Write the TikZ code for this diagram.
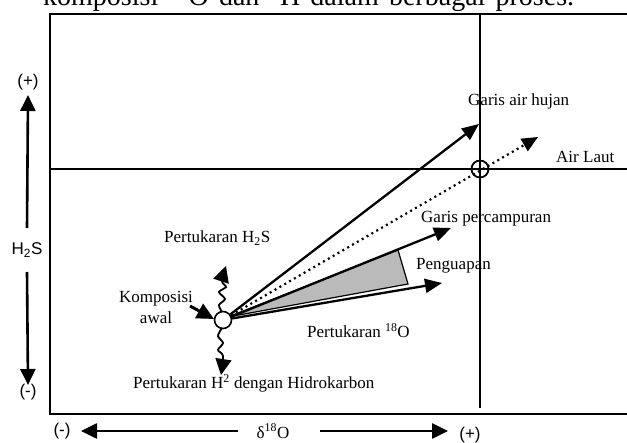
\documentclass[tikz,border=0pt]{standalone}
\usepackage{fontspec}
\setmainfont{Liberation Serif}
\newfontfamily\arialf{Liberation Sans}
\usetikzlibrary{arrows.meta}
\begin{document}
\begin{tikzpicture}[x=1pt,y=-1pt,
  lbl/.style={font=\fontsize{17}{21}\selectfont, inner sep=0pt},
  slbl/.style={font=\arialf\fontsize{17}{21}\selectfont, inner sep=0pt},
  gridline/.style={line width=1.8pt},
  bigarrow/.style={line width=2.3pt, -{Triangle[length=17pt,width=14pt]}},
  dotarrow/.style={line width=2.2pt, dash pattern=on 2pt off 3.6pt, -{Triangle[length=16pt,width=14pt]}},
  wavy/.style={line width=1.8pt, -{Triangle[length=16pt,width=16pt]}},
  axarrow/.style={line width=2.6pt, -{Triangle[length=16pt,width=15pt]}}]
\useasboundingbox (0,0) rectangle (627,443);
% title (cut by the page top)
\node[anchor=base west, inner sep=0pt, font=\fontsize{28}{32}\selectfont] (title) at (43,6)
  {\makebox[531pt][s]{komposisi \textsuperscript{18}O dan \textsuperscript{2}H dalam berbagai proses.}};
% frame and grid
\draw[gridline] (660,14) -- (50,14) -- (50,414) -- (660,414);
\draw[gridline] (50,169) -- (660,169);
\draw[gridline] (480,14) -- (480,408);
% coordinates
\coordinate (rain) at (479,124);
\coordinate (dott) at (538,137);
\coordinate (mix) at (451,228);
\coordinate (evap) at (442,283);
\coordinate (gtl) at (228,317);
\coordinate (gtr) at (398,250);
\coordinate (gbr) at (408,284);
\coordinate (kst) at (190,306);
\coordinate (kend) at (214,319);
% grey wedge
\draw[fill=black!27, line width=1.2pt] (gtl) -- (gtr) -- (gbr) -- cycle;
% nodes
\node[circle, draw, line width=1.6pt, fill=white, minimum size=17pt, inner sep=0pt] (o) at (223,320) {};
\node[circle, draw, line width=1.8pt, minimum size=17pt, inner sep=0pt] (sea) at (480,169) {};
% arrows from origin
\draw[bigarrow] (o) -- (rain);
\draw[dotarrow] (o) -- (dott);
\draw[bigarrow] (o) -- (mix);
\draw[bigarrow] (o) -- (evap);
\draw[line width=3pt, -{Triangle[length=17pt,width=16pt]}] (kst) -- (kend);
% wavy arrows
\draw[wavy] plot[smooth] coordinates {(222,312) (219,305) (225,299) (219,292) (226,287) (222,281) (226,266)};
\draw[wavy] plot[smooth] coordinates {(222,328) (218,336) (223,343) (218,350) (223,356) (221,375)};
% labels
\node[lbl, anchor=base west] (lrain) at (468,106) {Garis air hujan};
\node[lbl, anchor=base west] (lsea) at (556,163) {Air Laut};
\node[lbl, anchor=base west] (lmix) at (421,223) {Garis percampuran};
\node[lbl, anchor=base west] (levap) at (416,270) {Penguapan};
\node[lbl, anchor=base west] (lh2s) at (164,243) {Pertukaran H\textsubscript{2}S};
\node[lbl, anchor=base, align=center] (lkom) at (156,324) {Komposisi\\awal};
\node[lbl, anchor=base west] (lo18) at (307,338) {Pertukaran \textsuperscript{18}O};
\node[lbl, anchor=base west] (lhid) at (133,389) {Pertukaran H\textsuperscript{2} dengan Hidrokarbon};
% left axis
\node[slbl] (yplus) at (28,82) {(+)};
\node[slbl] (yh2s) at (27,250) {H\textsubscript{2}S};
\node[slbl] (yminus) at (28,392) {(-)};
\coordinate (yuptip) at (28,95);
\coordinate (ydntip) at (28,385);
\draw[axarrow] (yh2s.north |- 0,228) -- (yuptip);
\draw[axarrow] (yh2s.south |- 0,272) -- (ydntip);
% bottom axis
\node[slbl] (xminus) at (62,431) {(-)};
\node[lbl] (xdelta) at (273,431) {δ\textsuperscript{18}O};
\node[slbl] (xplus) at (470,435) {(+)};
\coordinate (xltip) at (81,431);
\coordinate (xrtip) at (448,431);
\draw[axarrow] (238,431) -- (xltip);
\draw[axarrow] (320,431) -- (xrtip);
\end{tikzpicture}
\end{document}
